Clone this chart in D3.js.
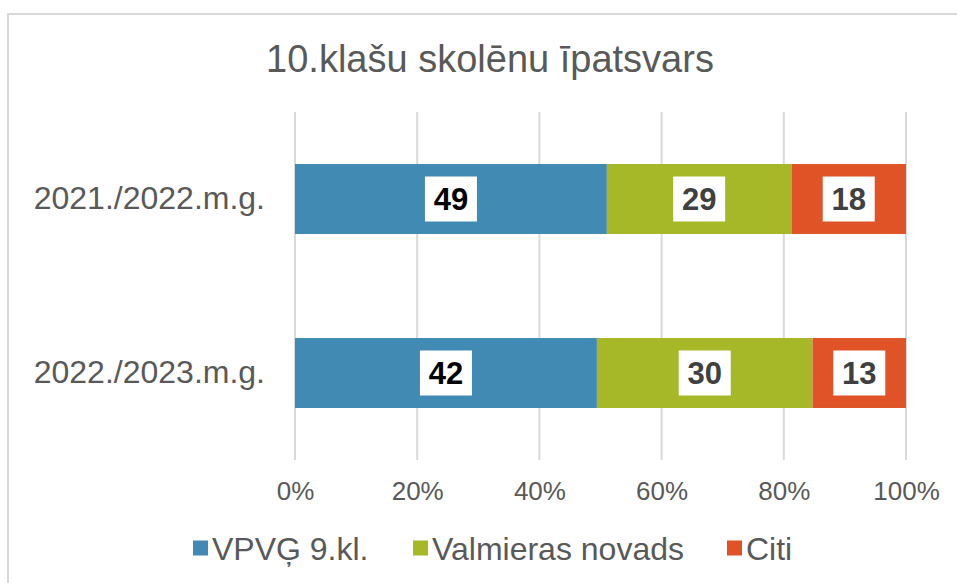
<!DOCTYPE html>
<html>
<head>
<meta charset="utf-8">
<script src="https://cdn.jsdelivr.net/npm/d3@7"></script>
<style>
    body { margin: 0; background: #fff; }
    svg text { font-family: "Liberation Sans", Arial, sans-serif; }
</style>
</head>
<body>
<script>
(function() {
    var w = 957,
        h = 583;

    // data
    var years = ['2021./2022.m.g.', '2022./2023.m.g.'];
    var seriesNames = ['VPVĢ 9.kl.', 'Valmieras novads', 'Citi'];
    var seriesColors = ['#418ab3', '#a6b727', '#df5327'];
    var vpvg = [49, 42];
    var valmiera = [29, 30];
    var citi = [18, 13];
    var tickValues = [0, 0.2, 0.4, 0.6, 0.8, 1];

    var rows = years.map(function(y, i) {
        return {year: y, vals: [vpvg[i], valmiera[i], citi[i]]};
    });

    var svg = d3.select('body')
        .append('svg')
        .attr('width', w)
        .attr('height', h);

    // outer chart frame
    svg.append('rect')
        .attr('x', 8)
        .attr('y', 14)
        .attr('width', 1000)
        .attr('height', 1000)
        .attr('fill', '#fff')
        .attr('stroke', '#d9d9d9')
        .attr('stroke-width', 2);

    svg.append('text')
        .attr('x', 490)
        .attr('y', 72)
        .attr('text-anchor', 'middle')
        .attr('font-size', 38)
        .attr('fill', '#595959')
        .text('10.klašu skolēnu īpatsvars');

    var xScale = d3.scaleLinear()
        .domain([0, 1])
        .range([295, 906]);
    var yScale = d3.scaleBand()
        .domain(years)
        .range([112, 460])
        .paddingInner(0.598)
        .paddingOuter(0.299);

    // gridlines
    svg.append('g')
        .selectAll('line')
        .data(tickValues)
        .enter()
        .append('line')
        .attr('x1', xScale)
        .attr('x2', xScale)
        .attr('y1', 112)
        .attr('y2', 460)
        .attr('stroke', '#d9d9d9')
        .attr('stroke-width', 2);

    // x axis (labels only)
    var xAxis = svg.append('g')
        .attr('transform', 'translate(0,' + 482 + ')')
        .call(d3.axisBottom(xScale)
            .tickValues(tickValues)
            .tickFormat(d3.format('.0%'))
            .tickSize(0)
            .tickPadding(0));
    xAxis.select('.domain').remove();
    xAxis.selectAll('text')
        .attr('font-family', '"Liberation Sans", Arial, sans-serif')
        .attr('font-size', 26)
        .attr('fill', '#595959')
        .attr('dy', '0.71em');

    // y axis (category labels)
    var yAxis = svg.append('g')
        .attr('transform', 'translate(265,0)')
        .call(d3.axisLeft(yScale).tickSize(0).tickPadding(0));
    yAxis.select('.domain').remove();
    yAxis.selectAll('text')
        .attr('font-family', '"Liberation Sans", Arial, sans-serif')
        .attr('font-size', 32)
        .attr('fill', '#595959');

    // stacked segments
    var segs = [];
    rows.forEach(function(r) {
        var total = d3.sum(r.vals), acc = 0;
        r.vals.forEach(function(v, k) {
            segs.push({year: r.year, k: k, v: v, x0: acc / total, x1: (acc + v) / total});
            acc += v;
        });
    });

    svg.append('g')
        .selectAll('rect')
        .data(segs)
        .enter()
        .append('rect')
        .attr('x', function(d) { return xScale(d.x0); })
        .attr('width', function(d) { return xScale(d.x1) - xScale(d.x0); })
        .attr('y', function(d) { return yScale(d.year); })
        .attr('height', yScale.bandwidth())
        .attr('fill', function(d) { return seriesColors[d.k]; });

    // data labels in white boxes
    var lab = svg.append('g')
        .selectAll('g')
        .data(segs)
        .enter()
        .append('g')
        .attr('transform', function(d) {
            var cx = (xScale(d.x0) + xScale(d.x1)) / 2;
            var cy = yScale(d.year) + yScale.bandwidth() / 2;
            return 'translate(' + cx + ',' + cy + ')';
        });
    lab.append('rect')
        .attr('x', -26)
        .attr('y', -22.5)
        .attr('width', 52)
        .attr('height', 45)
        .attr('fill', '#fff');
    lab.append('text')
        .attr('text-anchor', 'middle')
        .attr('dy', '0.36em')
        .attr('font-size', 31)
        .attr('font-weight', 'bold')
        .attr('fill', function(d) { return d.k === 0 ? '#000' : '#404040'; })
        .text(function(d) { return d.v; });

    // legend
    var legendX = [193, 413, 727];
    var leg = svg.append('g')
        .selectAll('g')
        .data(seriesNames)
        .enter()
        .append('g')
        .attr('transform', function(d, i) { return 'translate(' + legendX[i] + ',548)'; });
    leg.append('rect')
        .attr('x', 0)
        .attr('y', -7.5)
        .attr('width', 15)
        .attr('height', 15)
        .attr('fill', function(d, i) { return seriesColors[i]; });
    leg.append('text')
        .attr('x', 19)
        .attr('dy', '0.36em')
        .attr('font-size', 32)
        .attr('fill', '#595959')
        .text(function(d) { return d; });
})();
</script>
</body>
</html>
